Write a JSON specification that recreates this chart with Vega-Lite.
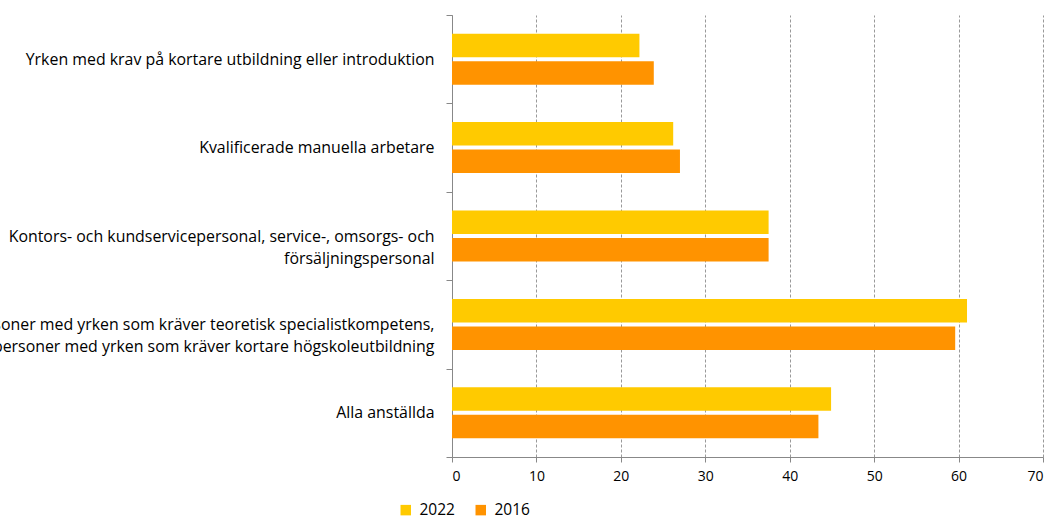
{
  "$schema": "https://vega.github.io/schema/vega-lite/v6.json",
  "width": 591,
  "height": 442,
  "autosize": {"type": "none"},
  "padding": {"left": 452, "top": 15, "right": 11, "bottom": 62},
  "background": "white",
  "config": {
    "view": {"stroke": null},
    "font": "Open Sans"
  },
  "data": {
    "values": [
      {"kategori": "Yrken med krav på kortare utbildning eller introduktion", "year": "2022", "value": 22.2},
      {"kategori": "Yrken med krav på kortare utbildning eller introduktion", "year": "2016", "value": 23.9},
      {"kategori": "Kvalificerade manuella arbetare", "year": "2022", "value": 26.2},
      {"kategori": "Kvalificerade manuella arbetare", "year": "2016", "value": 27.0},
      {"kategori": "Kontors- och kundservicepersonal, service-, omsorgs- och|försäljningspersonal", "year": "2022", "value": 37.5},
      {"kategori": "Kontors- och kundservicepersonal, service-, omsorgs- och|försäljningspersonal", "year": "2016", "value": 37.5},
      {"kategori": "Personer med yrken som kräver teoretisk specialistkompetens,|personer med yrken som kräver kortare högskoleutbildning", "year": "2022", "value": 61.0},
      {"kategori": "Personer med yrken som kräver teoretisk specialistkompetens,|personer med yrken som kräver kortare högskoleutbildning", "year": "2016", "value": 59.6},
      {"kategori": "Alla anställda", "year": "2022", "value": 44.9},
      {"kategori": "Alla anställda", "year": "2016", "value": 43.4}
    ]
  },
  "mark": {"type": "bar"},
  "encoding": {
    "y": {
      "field": "kategori",
      "type": "nominal",
      "sort": null,
      "scale": {"paddingInner": 0, "paddingOuter": 0},
      "axis": {
        "title": null,
        "labelExpr": "split(replace(datum.label, 'personal|f', 'personal|\u2060\u2007\u2007\u2007\u2007\u2007\u2007\u2007\u2007\u2007\u2007\u2007\u2007\u2007\u2007\u2007|f'), '|')",
        "labelFontSize": 15.9,
        "labelColor": "#000000",
        "labelLineHeight": 22,
        "labelPadding": 12,
        "labelLimit": 0,
        "tickBand": "extent",
        "tickSize": 6,
        "tickColor": "#888888",
        "domainColor": "#888888",
        "grid": false
      }
    },
    "yOffset": {
      "field": "year",
      "type": "nominal",
      "sort": ["2022", "2016"],
      "scale": {"paddingInner": 0.145, "paddingOuter": 0.68}
    },
    "x": {
      "field": "value",
      "type": "quantitative",
      "scale": {"domain": [0, 70], "nice": false},
      "axis": {
        "title": null,
        "values": [0, 10, 20, 30, 40, 50, 60, 70],
        "labelFontSize": 14,
        "labelColor": "#000000",
        "labelPadding": 7,
        "tickSize": 5,
        "tickColor": "#888888",
        "domainColor": "#888888",
        "grid": true,
        "gridColor": "#999999",
        "gridDash": [3, 2],
        "gridWidth": 1
      }
    },
    "color": {
      "field": "year",
      "type": "nominal",
      "sort": ["2022", "2016"],
      "scale": {"domain": ["2022", "2016"], "range": ["#FFCA00", "#FF9300"]},
      "legend": {
        "title": null,
        "orient": "none",
        "direction": "horizontal",
        "legendX": -54,
        "legendY": 487,
        "symbolType": "square",
        "symbolSize": 110,
        "symbolStrokeWidth": 0,
        "labelFontSize": 15.5,
        "labelColor": "#000000",
        "columnPadding": 18,
        "labelOffset": 6
      }
    }
  }
}
